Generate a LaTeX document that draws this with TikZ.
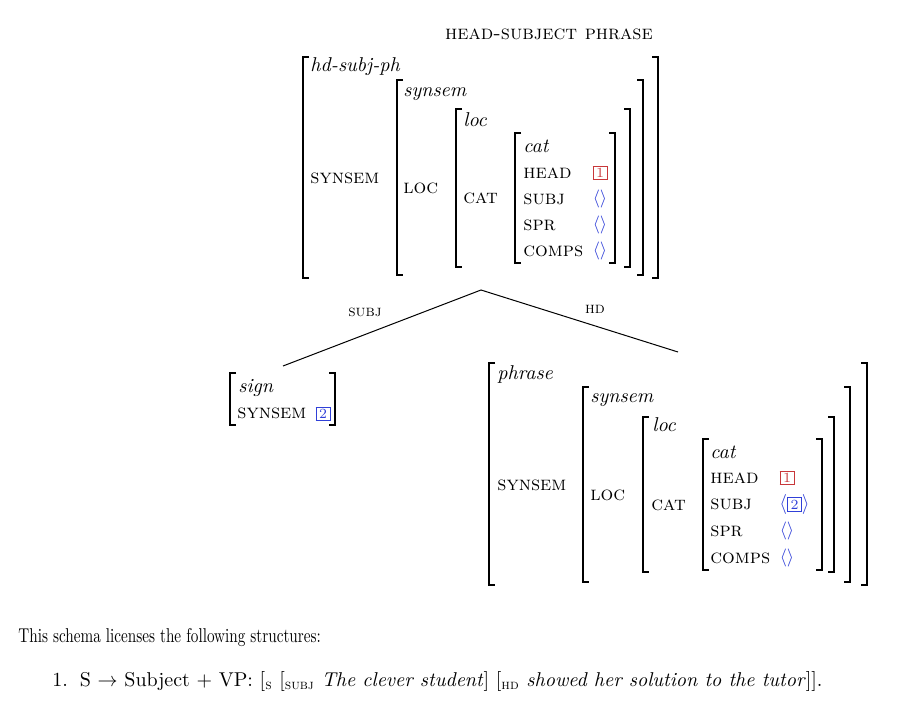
\documentclass[tikz,border=0pt]{standalone}
\usepackage{amsmath}
\usepackage{graphicx}
\usepackage{tikz}
\usepackage{xcolor}
\definecolor{TagRed}{HTML}{C8373A}
\definecolor{TagBlue}{HTML}{3040D8}
\setlength{\fboxsep}{0.8pt}
\newcommand{\tagnum}[2]{\textcolor{#1}{\fbox{\makebox[5pt]{\fontsize{7}{8}\selectfont #2}}}}
% left and right bracket of one feature matrix: x left, x right, y top, y bottom
\newcommand{\avmbrackets}[4]{%
  \draw[brk] (#1+6,#3) -- (#1,#3) -- (#1,#4) -- (#1+6,#4);
  \draw[brk] (#2-6,#3) -- (#2,#3) -- (#2,#4) -- (#2-6,#4);}

\begin{document}
\begin{tikzpicture}[
  x=0.5pt, y=-0.5pt,
  brk/.style={line width=1pt,line cap=butt},
  feat/.style={anchor=west,inner sep=0pt,font=\scshape},
  type/.style={anchor=west,inner sep=0pt,font=\itshape},
  plain/.style={anchor=west,inner sep=0pt},
  val/.style={inner sep=0pt},
  empty/.style={inner sep=0pt,text=TagBlue,font=\small},
  edge/.style={font=\footnotesize\scshape,inner sep=0pt},
  branch/.style={line width=0.5pt}
]
\useasboundingbox (0,0) rectangle (917,712);

% mother
\node[font=\scshape] (title) at (549,34) {head-subject phrase};
\avmbrackets{303}{658}{57}{278}
\avmbrackets{397}{643}{80}{275}
\avmbrackets{456}{630}{109}{267}
\avmbrackets{515}{615}{133}{263}
\node[type] (m-type) at (310,67) {hd-subj-ph};
\node[feat] (m-synsem) at (310,178) {synsem};
\node[type] (m-ss) at (403,94) {synsem};
\node[feat] (m-loc) at (403,188) {loc};
\node[type] (m-lt) at (463,120) {loc};
\node[feat] (m-cat) at (463,198) {cat};
\node[type] (m-ct) at (523,146) {cat};
\node[feat] (m-head) at (523,173) {head};
\node[feat] (m-subj) at (523,199) {subj};
\node[feat] (m-spr) at (523,225) {spr};
\node[feat] (m-comps) at (523,251) {comps};
\node[val] (m-headv) at (600,173) {\tagnum{TagRed}{1}};
\node[empty] (m-subjv) at (600,199) {$\langle\rangle$};
\node[empty] (m-sprv) at (600,225) {$\langle\rangle$};
\node[empty] (m-compsv) at (600,251) {$\langle\rangle$};

% branches
\coordinate (apex) at (481,290);
\coordinate (subj-end) at (283,366);
\coordinate (hd-end) at (678,352);
\draw[branch] (subj-end) -- (apex) -- (hd-end);
\node[edge] (subj-lab) at (365,312) {subj};
\node[edge] (hd-lab) at (595,309) {hd};

% subject daughter
\avmbrackets{230}{335}{373}{425}
\node[type] (s-type) at (238,388) {sign};
\node[feat] (s-synsem) at (237,413) {synsem};
\node[val] (s-tag) at (323,414) {\tagnum{TagBlue}{2}};

% head daughter
\avmbrackets{489}{867}{363}{585}
\avmbrackets{583}{850}{387}{582}
\avmbrackets{643}{834}{417}{572}
\avmbrackets{703}{822}{439}{570}
\node[type] (h-type) at (497,374) {phrase};
\node[feat] (h-synsem) at (497,485) {synsem};
\node[type] (h-ss) at (590,400) {synsem};
\node[feat] (h-loc) at (590,495) {loc};
\node[type] (h-lt) at (652,425) {loc};
\node[feat] (h-cat) at (651,505) {cat};
\node[type] (h-ct) at (710,452) {cat};
\node[feat] (h-head) at (710,478) {head};
\node[feat] (h-subj) at (710,504) {subj};
\node[feat] (h-spr) at (710,531) {spr};
\node[feat] (h-comps) at (710,558) {comps};
\node[val] (h-headv) at (787,478) {\tagnum{TagRed}{1}};
\node[empty,anchor=west,font=\normalsize] (h-subjv) at (779,504) {$\langle$\tagnum{TagBlue}{2}$\rangle$};
\node[empty] (h-sprv) at (787,531) {$\langle\rangle$};
\node[empty] (h-compsv) at (787,558) {$\langle\rangle$};

% text below
\node[plain] (intro) at (18,638) {\scalebox{0.76}[1]{This schema licenses the following structures:}};
\node[plain] (item) at (52,681) {1.\hskip 6pt S $\rightarrow$ Subject + VP: $[_{\text{\textsc{s}}}$\ $[_{\text{\textsc{subj}}}$\ \textit{The clever student}$]$\ $[_{\text{\textsc{hd}}}$\ \textit{showed her solution to the tutor}$]]$.};
\end{tikzpicture}
\end{document}
